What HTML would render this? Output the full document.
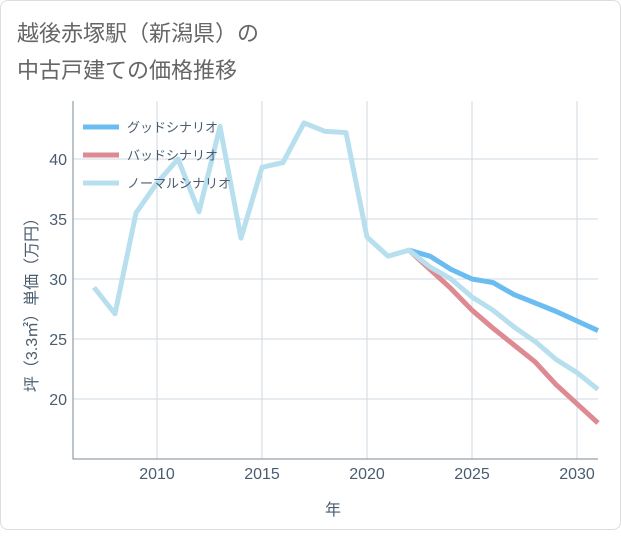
<!DOCTYPE html>
<html><head><meta charset="utf-8"><style>
body{margin:0;background:#fff;font-family:"Liberation Sans","Noto Sans CJK JP",sans-serif;}
#card{position:absolute;left:0;top:0;width:619px;height:528px;border:1px solid #ddd;border-radius:8px;background:#fff;}
</style></head><body>
<div id="card">
<svg id="chart" width="621" height="530">
<text x="16" y="40" font-size="22" fill="#666">越後赤塚駅（新潟県）の</text>
<text x="16" y="77" font-size="22" fill="#666">中古戸建ての価格推移</text>
<g id="grid"></g><g id="lines"></g><g id="legend"></g>
<text x="332" y="514" font-size="16" fill="#4a5d70" text-anchor="middle">年</text>
<text transform="translate(36,300) rotate(-90)" font-size="16" fill="#4a5d70" text-anchor="middle">坪（3.3㎡）単価（万円）</text>
</svg></div>
<script>
const years=[2007,2008,2009,2010,2011,2012,2013,2014,2015,2016,2017,2018,2019,2020,2021,2022,2023,2024,2025,2026,2027,2028,2029,2030,2031];
const normal=[29.3,27.1,35.5,38.0,40.0,35.6,42.7,33.4,39.3,39.7,43.0,42.3,42.2,33.5,31.9,32.4,31.0,30.0,28.5,27.4,26.0,24.8,23.3,22.2,20.8];
const futureYears=[2022,2023,2024,2025,2026,2027,2028,2029,2030,2031];
const good=[32.4,31.9,30.8,30.0,29.7,28.7,28.0,27.3,26.5,25.7];
const bad=[32.4,30.8,29.2,27.4,25.9,24.5,23.1,21.2,19.6,18.0];
const xTicks=[2010,2015,2020,2025,2030];
const yTicks=[20,25,30,35,40];
const NS="http://www.w3.org/2000/svg";
const L=72,R=597,T=100,B=458;
const x=v=>L+(v-2006)*(R-L)/25;
const y=v=>B-(v-15)*(B-T)/29.83;
function mk(tag,attrs,parent){const e=document.createElementNS(NS,tag);for(const k in attrs)e.setAttribute(k,attrs[k]);parent.appendChild(e);return e;}
const g=document.getElementById('grid');
xTicks.forEach(t=>{
 const l=mk('line',{x1:x(t),x2:x(t),y1:T,y2:B,stroke:'#cfd8e0'},g);
 
 
 const tx=mk('text',{x:x(t),y:B+20,'font-size':16,fill:'#4a5d70','text-anchor':'middle'},g);tx.textContent=t;
 
 
});
yTicks.forEach(t=>{
 const l=mk('line',{x1:L,x2:R,y1:y(t),y2:y(t),stroke:'#cfd8e0'},g);
 
 
 const tx=mk('text',{x:L-6,y:y(t)+6,'font-size':16,fill:'#4a5d70','text-anchor':'end'},g);tx.textContent=t;
 
 
});
const ax=mk('path',{d:`M${L},${T}V${B}H${R}`,stroke:'#7a8a99',fill:'none','stroke-width':1},g);


const lg=document.getElementById('lines');
function line(xs,ys,color,name){
 const p=mk('path',{d:xs.map((v,i)=>(i?'L':'M')+x(v)+','+y(ys[i])).join(''),stroke:color,'stroke-width':5,fill:'none','stroke-linejoin':'round'},lg);
 
 
}
line(futureYears,good,'#6bbcf0','good-scenario-line');
line(futureYears,bad,'#de8a93','bad-scenario-line');
line(years,normal,'#b7dfee','normal-scenario-line');
const leg=document.getElementById('legend');
[['グッドシナリオ','#6bbcf0'],['バッドシナリオ','#de8a93'],['ノーマルシナリオ','#b7dfee']].forEach((d,i)=>{
 const yy=126+i*28;
 const s=mk('line',{x1:82,x2:118,y1:yy,y2:yy,stroke:d[1],'stroke-width':5},leg);
 
 
 const t=mk('text',{x:126,y:yy+5,'font-size':13,fill:'#4a5d70'},leg);t.textContent=d[0];
 
 
});
</script></body></html>
